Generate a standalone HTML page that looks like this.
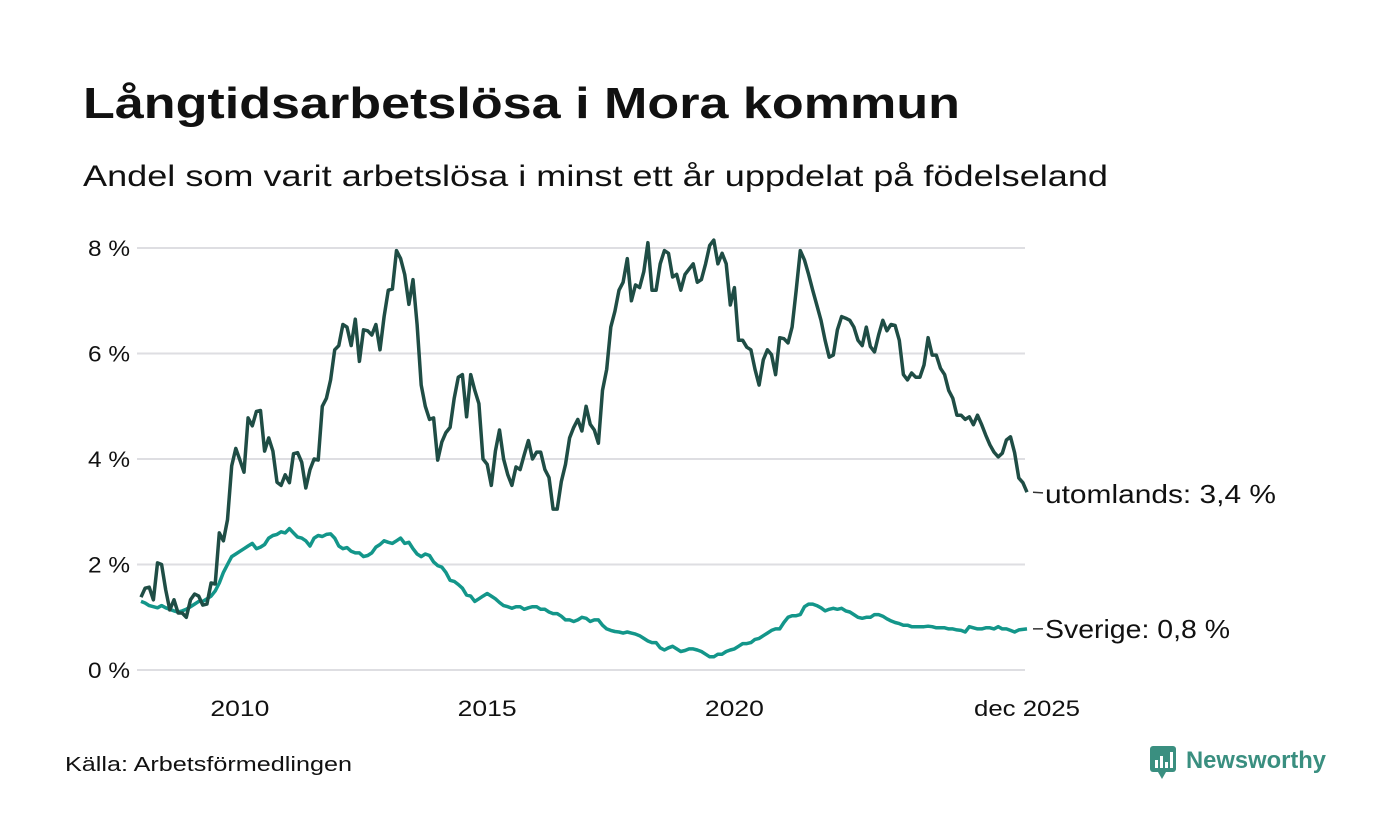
<!DOCTYPE html>
<html><head><meta charset="utf-8"><style>
html,body{margin:0;padding:0;background:#fff;}
svg{display:block;font-family:"Liberation Sans","DejaVu Sans",sans-serif;}
</style></head><body>
<svg id="chart" width="1400" height="840" viewBox="0 0 1400 840" xmlns="http://www.w3.org/2000/svg">
<text x="83" y="118" font-size="44" font-weight="bold" fill="#111" textLength="877" lengthAdjust="spacingAndGlyphs">Långtidsarbetslösa i Mora kommun</text>
<text x="83" y="186" font-size="30" fill="#111" textLength="1025" lengthAdjust="spacingAndGlyphs">Andel som varit arbetslösa i minst ett år uppdelat på födelseland</text>
<g id="grid"></g>
<g id="series"></g>
<text x="65" y="771" font-size="20" fill="#111" textLength="287" lengthAdjust="spacingAndGlyphs">Källa: Arbetsförmedlingen</text>
<g>
<rect x="1150" y="746" width="26" height="26" rx="3" fill="#3a8f80"/>
<polygon points="1158,772 1166,772 1162,779" fill="#3a8f80"/>
<rect x="1155" y="760" width="3" height="8" fill="#fff"/><rect x="1160" y="756" width="3" height="12" fill="#fff"/><rect x="1165" y="762" width="3" height="6" fill="#fff"/><rect x="1170" y="752" width="3" height="16" fill="#fff"/>
<text x="1186" y="768" font-size="24" font-weight="bold" fill="#3a8f80" textLength="140" lengthAdjust="spacingAndGlyphs">Newsworthy</text>
</g>
</svg>
<script>
const yTicks = [0, 2, 4, 6, 8];
const yTickLabels = ["0 %", "2 %", "4 %", "6 %", "8 %"];
const xTickYears = [2010, 2015, 2020];
const xTickLabels = ["2010", "2015", "2020"];
const startYear = 2008;
const utomlands = [
1.38,1.55,1.57,1.33,2.03,2.0,1.52,1.14,1.33,1.08,1.08,1.0,
1.33,1.44,1.4,1.23,1.25,1.65,1.63,2.6,2.45,2.85,3.87,4.2,
3.98,3.75,4.78,4.63,4.9,4.92,4.15,4.4,4.15,3.56,3.5,3.7,
3.55,4.1,4.12,3.94,3.45,3.8,4.0,3.98,5.0,5.15,5.5,6.07,
6.15,6.55,6.5,6.15,6.65,5.85,6.45,6.43,6.35,6.55,6.07,6.7,
7.2,7.22,7.95,7.8,7.5,6.93,7.4,6.55,5.4,5.0,4.75,4.78,
3.98,4.32,4.5,4.6,5.15,5.55,5.6,4.8,5.6,5.3,5.05,4.0,
3.9,3.5,4.15,4.55,4.0,3.7,3.5,3.85,3.8,4.08,4.35,4.0,
4.13,4.13,3.8,3.65,3.05,3.05,3.57,3.9,4.4,4.6,4.75,4.53,
5.0,4.66,4.55,4.3,5.3,5.7,6.5,6.8,7.2,7.35,7.8,7.0,
7.3,7.25,7.55,8.1,7.2,7.2,7.7,7.95,7.9,7.45,7.5,7.2,
7.5,7.6,7.7,7.35,7.4,7.7,8.05,8.15,7.7,7.9,7.7,6.92,
7.25,6.25,6.25,6.12,6.07,5.7,5.4,5.88,6.07,5.98,5.6,6.3,
6.28,6.2,6.5,7.2,7.95,7.77,7.5,7.2,6.92,6.63,6.25,5.93,
5.97,6.45,6.7,6.67,6.63,6.5,6.25,6.15,6.5,6.13,6.03,6.35,
6.63,6.43,6.55,6.53,6.25,5.6,5.5,5.63,5.55,5.55,5.78,6.3,
5.97,5.97,5.72,5.6,5.3,5.15,4.83,4.83,4.75,4.8,4.65,4.83,
4.65,4.45,4.27,4.13,4.04,4.11,4.36,4.42,4.12,3.64,3.55,3.37];
const sverige = [
1.3,1.27,1.22,1.2,1.18,1.22,1.18,1.15,1.12,1.1,1.12,1.15,
1.2,1.25,1.3,1.3,1.35,1.4,1.5,1.65,1.85,2.0,2.15,2.2,
2.25,2.3,2.35,2.4,2.3,2.33,2.38,2.5,2.55,2.57,2.62,2.6,
2.68,2.6,2.52,2.5,2.45,2.35,2.5,2.55,2.53,2.57,2.58,2.5,
2.35,2.3,2.32,2.25,2.22,2.22,2.15,2.17,2.22,2.33,2.38,2.45,
2.42,2.4,2.45,2.5,2.4,2.42,2.3,2.2,2.15,2.2,2.17,2.05,
1.98,1.95,1.85,1.7,1.68,1.62,1.55,1.42,1.4,1.3,1.35,1.4,
1.45,1.4,1.35,1.28,1.22,1.2,1.17,1.2,1.2,1.15,1.18,1.2,
1.2,1.15,1.15,1.1,1.07,1.07,1.02,0.95,0.95,0.92,0.95,1.0,
0.98,0.92,0.95,0.95,0.85,0.78,0.75,0.73,0.72,0.7,0.72,0.7,
0.68,0.65,0.6,0.55,0.52,0.52,0.42,0.38,0.42,0.45,0.4,0.35,
0.37,0.4,0.4,0.38,0.35,0.3,0.25,0.25,0.3,0.3,0.35,0.38,
0.4,0.45,0.5,0.5,0.52,0.58,0.6,0.65,0.7,0.75,0.78,0.78,
0.9,1.0,1.03,1.03,1.05,1.2,1.25,1.25,1.22,1.18,1.12,1.15,
1.17,1.15,1.17,1.12,1.1,1.05,1.0,0.98,1.0,1.0,1.05,1.05,
1.02,0.97,0.93,0.9,0.88,0.85,0.85,0.82,0.82,0.82,0.82,0.83,
0.82,0.8,0.8,0.8,0.78,0.78,0.76,0.75,0.72,0.82,0.8,0.78,
0.78,0.8,0.8,0.78,0.82,0.78,0.78,0.75,0.72,0.76,0.77,0.78];
const seriesLabels = ["utomlands: 3,4 %", "Sverige: 0,8 %"];

const NS = "http://www.w3.org/2000/svg";
const x0 = 141, x1 = 1027, y0 = 670, pxPerPct = 52.75;
function xScale(i){ return x0 + i * (x1 - x0) / 215; }
function xYear(yr){ return xScale((yr - startYear) * 12); }
function yScale(v){ return y0 - v * pxPerPct; }
function mk(tag, attrs, parent){ const e = document.createElementNS(NS, tag); for (const k in attrs) e.setAttribute(k, attrs[k]); parent.appendChild(e); return e; }

const grid = document.getElementById("grid");
yTicks.forEach((t, i) => {
  const l = mk("line", {x1:137, x2:1025, y1:yScale(t), y2:yScale(t), stroke:"#dedee2", "stroke-width":2}, grid);
  
  
  const tx = mk("text", {x:130, y:yScale(t)+8, "font-size":22, fill:"#111", "text-anchor":"end", textLength:42, lengthAdjust:"spacingAndGlyphs"}, grid);
  tx.textContent = yTickLabels[i];
  
  
});
xTickYears.forEach((yr, i) => {
  const tx = mk("text", {x:xYear(yr), y:716, "font-size":22, fill:"#111", "text-anchor":"middle", textLength:59, lengthAdjust:"spacingAndGlyphs"}, grid);
  tx.textContent = xTickLabels[i];
  
  
});
const lastTx = mk("text", {x:xScale(215), y:716, "font-size":22, fill:"#111", "text-anchor":"middle", textLength:106, lengthAdjust:"spacingAndGlyphs"}, grid);
lastTx.textContent = "dec 2025";



const sg = document.getElementById("series");
function drawLine(arr, color, name, label, dy, w){
  const d = arr.map((v, i) => (i ? "L" : "M") + xScale(i).toFixed(1) + "," + yScale(v).toFixed(1)).join("");
  const p = mk("path", {d:d, fill:"none", stroke:color, "stroke-width":3.5, "stroke-linejoin":"round"}, sg);
  
  
  const lx = xScale(arr.length - 1), ly = yScale(arr[arr.length - 1]);
  const ld = mk("line", {x1:lx+6, x2:lx+16, y1:ly, y2:ly+dy*0.3, stroke:"#333", "stroke-width":1.5}, sg);
  
  
  const t = mk("text", {x:lx+18, y:ly+dy+9, "font-size":26, fill:"#111", textLength:w, lengthAdjust:"spacingAndGlyphs"}, sg);
  t.textContent = label;
  
  
}
drawLine(sverige, "#13968a", "sverige-line", seriesLabels[1], 0, 185);
drawLine(utomlands, "#1f4d45", "utomlands-line", seriesLabels[0], 2, 231);
</script>
</body></html>
